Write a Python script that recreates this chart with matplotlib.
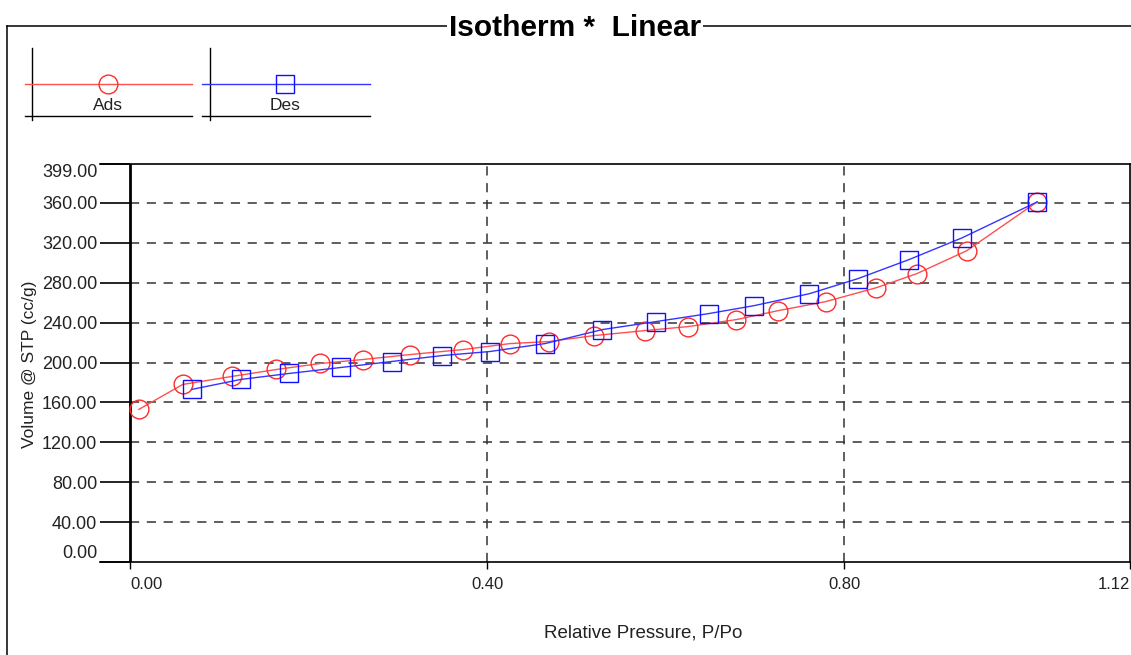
import numpy as np
import matplotlib
matplotlib.use("Agg")
import matplotlib.pyplot as plt
from matplotlib.lines import Line2D

plt.rcParams['font.family'] = ['Liberation Sans', 'DejaVu Sans']

# adsorpsjon (rode sirkler)
ads_p = [0.010, 0.059, 0.114, 0.164, 0.213, 0.261, 0.314, 0.373, 0.426, 0.469,
         0.520, 0.577, 0.625, 0.679, 0.726, 0.779, 0.836, 0.881, 0.937, 1.016]
ads_v = [153, 178, 186, 193, 199, 203, 208, 213, 219, 221,
         227, 232, 236, 243, 252, 261, 275, 289, 312, 361]

# desorpsjon (bla firkanter)
des_p = [1.016, 0.932, 0.872, 0.815, 0.761, 0.699, 0.648, 0.589, 0.529, 0.465,
         0.403, 0.350, 0.293, 0.236, 0.178, 0.124, 0.069]
des_v = [361, 325, 303, 284, 269, 257, 249, 241, 233, 219,
         211, 207, 201, 195, 189, 183, 173]

x_ticks = [0.0, 0.40, 0.80, 1.12]
y_ticks = [0, 40, 80, 120, 160, 200, 240, 280, 320, 360, 399]

W, H = 1131, 655
fig = plt.figure(figsize=(W / 100, H / 100), dpi=100)

def fx(x):
    return x / W

def fy(y):
    return 1 - y / H

ax = fig.add_axes([fx(100), fy(562), (1130 - 100) / W, (562 - 164) / H])
ax.set_xlim(-0.0336, 1.12)
ax.set_ylim(0, 399)

dash = (0, (6, 5))
ax.hlines(y_ticks[1:-1], 0, 1.12, colors='#333333', linewidth=1.1, linestyles=dash, zorder=1)
for x in x_ticks[1:-1]:
    ax.axvline(x, color='#333333', linewidth=1.1, linestyle=dash, zorder=1)
ax.axvline(0, color='black', linewidth=2, zorder=2)

ax.plot(ads_p, ads_v, color='#ff5050', linewidth=1, marker='o', markersize=13.5,
        markerfacecolor='none', markeredgecolor='#ff2a2a', markeredgewidth=1, zorder=3)
ax.plot(des_p, des_v, color='#3535ff', linewidth=1, marker='s', markersize=13.5,
        markerfacecolor='none', markeredgecolor='#1010ff', markeredgewidth=1, zorder=3)

ax.spines['left'].set_visible(False)
for s in ['top', 'right', 'bottom']:
    ax.spines[s].set_linewidth(1.2)

ax.set_xticks(x_ticks)
ax.set_xticklabels(["%.2f" % v for v in x_ticks])
ax.set_yticks(y_ticks)
ax.set_yticklabels(["%.2f" % v for v in y_ticks])
ax.tick_params(axis='y', direction='in', length=21.6, width=1.2, pad=2,
               labelsize=13, labelcolor='#222222')
ax.tick_params(axis='x', direction='out', length=5, width=1, pad=6,
               labelsize=12, labelcolor='#222222')

xl = ax.get_xticklabels()
xl[0].set_ha('left')
xl[-1].set_ha('right')
yl = ax.get_yticklabels()
yl[0].set_va('bottom')
yl[-1].set_va('top')

fig.text(fx(30), fy(364), 'Volume @ STP (cc/g)', rotation=90, ha='center', va='center',
         fontsize=12.5, color='#222222')
fig.text(fx(643), fy(633), 'Relative Pressure, P/Po', ha='center', va='center',
         fontsize=13.5, color='#222222')

# ramme og tittel
fig.add_artist(Line2D([fx(7), fx(7)], [fy(26), fy(655)], color='black', linewidth=1.1))
fig.add_artist(Line2D([fx(7), fx(1131)], [fy(26), fy(26)], color='black', linewidth=1.1))
fig.text(fx(575), fy(36), 'Isotherm *  Linear', ha='center', va='baseline', fontsize=21.5,
         fontweight='bold', bbox=dict(facecolor='white', edgecolor='none', pad=1))

# legende
legend = [('Ads', 32, 25, 192, '#ff5050', '#ff2a2a', 'o'),
          ('Des', 210, 202, 370, '#3535ff', '#1010ff', 's')]
for navn, xv, x0, x1, lc, mc, mk in legend:
    fig.add_artist(Line2D([fx(xv), fx(xv)], [fy(48), fy(120)], color='black', linewidth=1))
    fig.add_artist(Line2D([fx(x0), fx(x1)], [fy(116), fy(116)], color='black', linewidth=1))
    fig.add_artist(Line2D([fx(x0), fx(x1)], [fy(84), fy(84)], color=lc, linewidth=1))
    xm = (x0 + x1) / 2 - 1
    fig.add_artist(Line2D([fx(xm)], [fy(84)], marker=mk, markersize=13.5, markerfacecolor='none',
                          markeredgecolor=mc, markeredgewidth=1, linestyle='none'))
    fig.text(fx(xm), fy(106), navn, ha='center', va='center', fontsize=12.5, color='#222222')

fig.savefig('out.png', dpi=100)
